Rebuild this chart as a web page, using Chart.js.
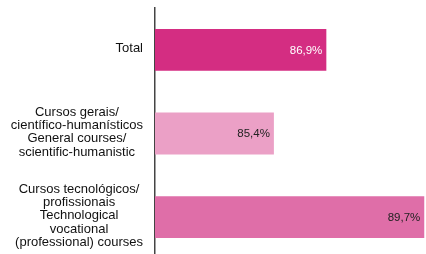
<!DOCTYPE html>
<html>
<head>
<meta charset="utf-8">
<script src="https://cdn.jsdelivr.net/npm/chart.js@4"></script>
<style>
  html, body { margin: 0; padding: 0; background: #fff; overflow: hidden; }
  canvas { display: block; }
</style>
</head>
<body>
<canvas id="chart" width="426" height="259"></canvas>
<script>
// categories (each label split in lines)
const categories = [
  ["Total"],
  ["Cursos gerais/", "científico-humanísticos", "General courses/", "scientific-humanistic"],
  ["Cursos tecnológicos/", "profissionais", "Technological", "vocational", "(professional) courses"]
];
const values = [86.9, 85.4, 89.7];
const valueLabels = ["86,9%", "85,4%", "89,7%"];
const barColors = ["#d42d82", "#eba0c6", "#df6ea8"];
const labelColors = ["#ffffff", "#222222", "#222222"];

// -------------------------------
// value labels inside bar ends
// -------------------------------
const valueLabelPlugin = {
  id: "valueLabels",
  afterDatasetsDraw(chart) {
    const ctx = chart.ctx;
    const meta = chart.getDatasetMeta(0);
    ctx.save();
    ctx.font = "11.5px 'Liberation Sans', Arial, sans-serif";
    ctx.textAlign = "right";
    ctx.textBaseline = "middle";
    meta.data.forEach((bar, i) => {
      ctx.fillStyle = labelColors[i];
      ctx.fillText(valueLabels[i], bar.x - 4, bar.y + 0.5);
    });
    ctx.restore();
  }
};

// -------------------------------
// category labels, each block centred on itself
// -------------------------------
const categoryLabelPlugin = {
  id: "categoryLabels",
  afterDraw(chart) {
    const ctx = chart.ctx;
    const yScale = chart.scales.y;
    const lineH = 13.35;
    const rightEdge = 143;
    ctx.save();
    ctx.font = "13px 'Liberation Sans', Arial, sans-serif";
    ctx.fillStyle = "#111";
    ctx.textAlign = "center";
    ctx.textBaseline = "middle";
    categories.forEach((lines, i) => {
      const widest = Math.max(...lines.map(l => ctx.measureText(l).width));
      const cx = rightEdge - widest / 2;
      const cy = yScale.getPixelForTick(i) - 1.5;
      const top = cy - (lines.length - 1) * lineH / 2;
      lines.forEach((l, j) => ctx.fillText(l, cx, top + j * lineH));
    });
    ctx.restore();
  }
};

new Chart(document.getElementById("chart"), {
  type: "bar",
  data: {
    labels: categories.map(c => c.join(" ")),
    datasets: [{
      data: values,
      backgroundColor: barColors,
      borderWidth: 0,
      categoryPercentage: 1,
      barPercentage: 0.5
    }]
  },
  options: {
    indexAxis: "y",
    responsive: false,
    animation: false,
    layout: { padding: { top: 8, right: 0, bottom: 0, left: 0 } },
    plugins: {
      legend: { display: false },
      tooltip: { enabled: false }
    },
    scales: {
      x: {
        display: false,
        min: 82,
        max: 89.75
      },
      y: {
        grid: { display: false, drawTicks: false },
        border: { display: true, color: "#444", width: 1.5 },
        ticks: { display: false },
        afterFit(scale) { scale.width = 155; }
      }
    }
  },
  plugins: [valueLabelPlugin, categoryLabelPlugin]
});
</script>
</body>
</html>
